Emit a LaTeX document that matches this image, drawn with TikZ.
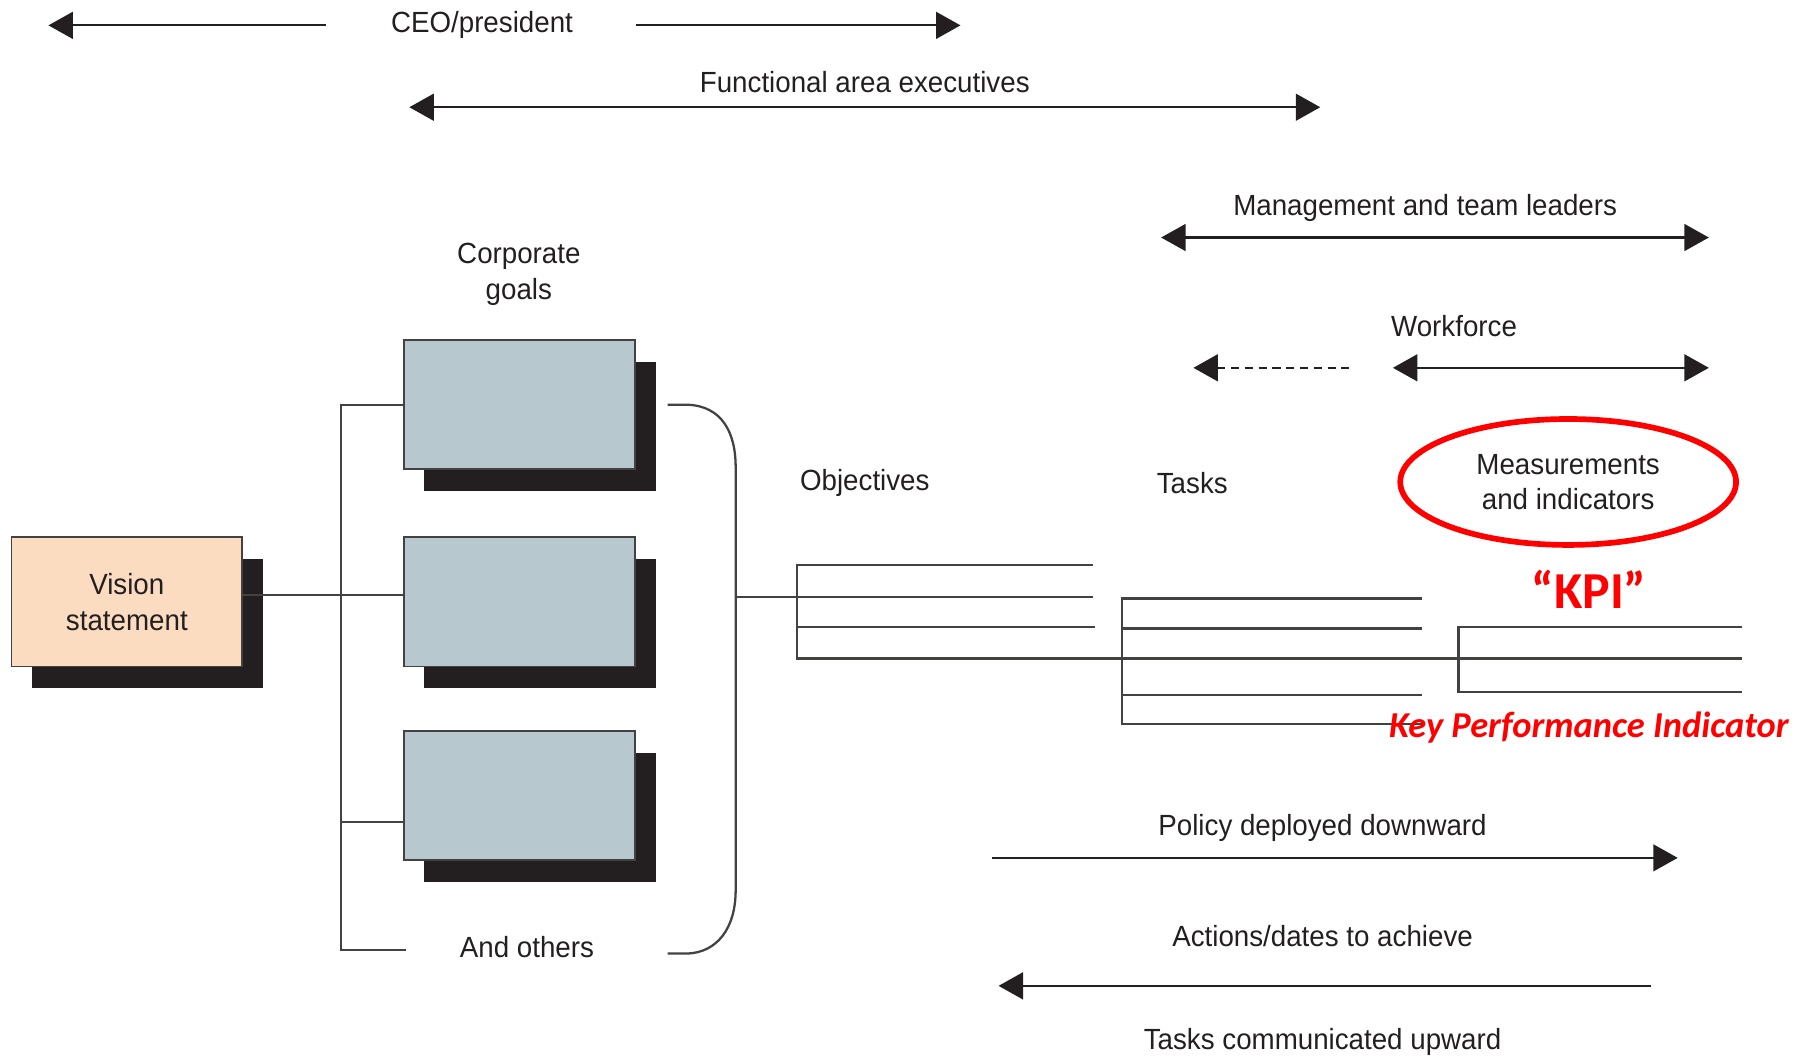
\documentclass[tikz,border=0pt]{standalone}
\usepackage{fontspec}
\newfontfamily\narrow{Liberation Sans}[FakeStretch=0.95]
\newfontfamily\kpifont{Carlito}
\usetikzlibrary{arrows.meta}
\usetikzlibrary{shapes.geometric}
\usetikzlibrary{shadows}
\definecolor{peach}{HTML}{FCDCC0}
\definecolor{goalblue}{HTML}{B7C9CF}
\definecolor{ink}{HTML}{231F20}
\definecolor{kpired}{HTML}{FF0000}

\begin{document}
\begin{tikzpicture}[x=0.025cm,y=-0.025cm,>={Triangle[length=0.53cm,width=0.58cm]}]
	\tikzstyle{lbl}=[font=\narrow\fontsize{18}{22}\selectfont,text=ink,align=center,inner sep=0pt]
	\tikzstyle{box}=[draw=ink!85,line width=1.1pt,minimum width=5.02cm,minimum height=2.8cm,general shadow={fill=ink,shadow xshift=0.45cm,shadow yshift=-0.47cm}]
	\tikzstyle{goal}=[box,fill=goalblue]
	\tikzstyle{vision}=[box,fill=peach]
	\tikzstyle{arr}=[draw=ink,line width=1.4pt]
	\tikzstyle{tree}=[draw=ink!85,line width=1.4pt]
	\useasboundingbox (0,0) rectangle (1568,918);
	\node[lbl] (ceo) at (418,22) {CEO/president};
	\node[lbl] (func) at (750,71) {Functional area executives};
	\node[lbl] (mgmt) at (1236,180) {Management and team leaders};
	\node[lbl] (work) at (1261,283) {Workforce};
	\node[lbl] (corp) at (450,238) {Corporate\\goals};
	\node[lbl] (obj) at (750,419) {Objectives};
	\node[lbl] (tasks) at (1034,419) {Tasks};
	\node[lbl] (others) at (457,821) {And others};
	\node[lbl] (policy) at (1147,718) {Policy deployed downward};
	\node[lbl] (actions) at (1147,812) {Actions/dates to achieve};
	\node[lbl] (upward) at (1147,904) {Tasks communicated upward};
	\node[vision,lbl,minimum width=5cm] (vis) at (110,522) {Vision\\statement};
	\node[goal] (goalA) at (450.5,351) {};
	\node[goal] (goalB) at (450.5,522) {};
	\node[goal] (goalC) at (450.5,690) {};
	\node[lbl,ellipse,draw=kpired,line width=3.5pt,minimum width=7.28cm,minimum height=2.73cm] (meas) at (1360,418) {Measurements\\and indicators};
	\node[font=\kpifont\bfseries\fontsize{32}{36}\selectfont,text=kpired,inner sep=0pt] (kpi) at (1378,511) {“KPI”};
	\coordinate (ceoL) at (42,22);
	\coordinate (ceoA) at (283,22);
	\coordinate (ceoB) at (552,22);
	\coordinate (ceoR) at (833,22);
	\coordinate (funcL) at (355,93);
	\coordinate (funcR) at (1145,93);
	\coordinate (mgmtL) at (1007,206);
	\coordinate (mgmtR) at (1482,206);
	\coordinate (dashL) at (1035,319);
	\coordinate (dashR) at (1173,319);
	\coordinate (workL) at (1208,319);
	\coordinate (workR) at (1482,319);
	\coordinate (polL) at (860,744);
	\coordinate (polR) at (1455,744);
	\coordinate (actL) at (866,855);
	\coordinate (actR) at (1432,855);
	\draw[arr,<-] (ceoL) -- (ceoA);
	\draw[arr,->] (ceoB) -- (ceoR);
	\draw[arr,<->] (funcL) -- (funcR);
	\draw[arr,<->] (mgmtL) -- (mgmtR);
	\draw[arr,<-,dash pattern=on 5pt off 3.5pt] (dashL) -- (dashR);
	\draw[arr,<->] (workL) -- (workR);
	\draw[arr,->] (polL) -- (polR);
	\draw[arr,<-] (actL) -- (actR);
	\coordinate (spineB) at (296,824);
	\coordinate (othersL) at (352,824);
	\draw[tree] (goalA.west) -| (spineB) -- (othersL);
	\draw[tree] (vis.east |- 0,516) -- (goalB.west |- 0,516);
	\draw[tree] (spineB |- 0,713) -- (goalC.west |- 0,713);
	\coordinate (brTop) at (579,351);
	\coordinate (brBot) at (579,827);
	\coordinate (brMid) at (638,518);
	\draw[tree] (brTop) -- (596,351) .. controls (626,352) and (638,375) .. (638,405) -- (638,772) .. controls (638,805) and (622,826) .. (596,827) -- (brBot);
	\draw[tree] (brMid) -- (948,518);
	\draw[tree] (948,490) -- (691,490) -- (691,571) -- (1511,571);
	\draw[tree] (691,544) -- (950,544);
	\draw[tree] (1233,519) -- (973,519) -- (973,628) -- (1233,628);
	\foreach \y in {545,603}
		\draw[tree] (973,\y) -- (1233,\y);
	\draw[tree] (1511,544) -- (1265,544) -- (1265,600) -- (1511,600);
	\node[font=\kpifont\bfseries\itshape\fontsize{22.5}{26}\selectfont,text=kpired,inner sep=0pt] (kpilong) at (1378,631) {Key Performance Indicator};
\end{tikzpicture}
\end{document}
